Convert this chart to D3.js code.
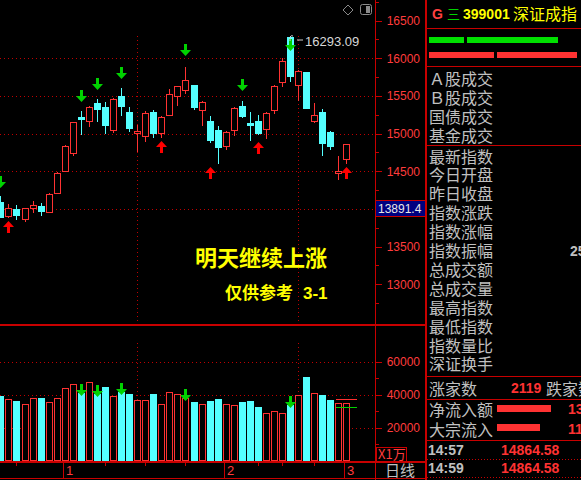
<!DOCTYPE html>
<html>
<head>
<meta charset="utf-8">
<script src="https://cdnjs.cloudflare.com/ajax/libs/d3/7.8.5/d3.min.js"></script>
<style>
body{margin:0;background:#000;overflow:hidden}
</style>
</head>
<body>
<script>
// ---- data (daily candles, 深证成指) ----
const openArr  = [14097,13911,14000,13871,14017,14040,13964,14216,14508,14747,15224,15171,15406,15353,15052,15499,15286,15017,14972,15286,15012,15251,15499,15582,15645,15313,15167,15048,14835,15048,15366,15141,15167,15065,15313,15688,16277,15649,15817,15171,15286,15021,14473,14667];
const highArr  = [14172,14066,14053,14013,14106,14080,14212,14491,14849,15154,15300,15366,15459,15419,15472,15605,15353,15114,15300,15313,15233,15595,15631,15883,15645,15432,15233,15101,15034,15353,15432,15286,15247,15286,15645,16003,16293.09,15843,15817,15406,15326,15034,14703,14864.58];
const lowArr   = [13890,13898,13867,13845,13960,13920,13960,14212,14504,14716,14999,15105,15171,15012,15021,15247,15038,14769,14906,14959,14959,15247,15383,15542,15326,15114,14889,14610,14796,14985,15220,14915,14995,14946,15277,15635,15702,15446,15339,15158,14720,14800,14402,14614];
const closeArr = [13890,14009,13920,14009,14053,13973,14199,14477,14835,15150,15194,15353,15326,15114,15459,15366,15074,15030,15269,15012,15220,15521,15627,15707,15353,15419,14915,14822,15021,15339,15233,15114,15008,15273,15627,15963,15768,15830,15343,15247,14879,14839,14504,14864.58];
const volArr   = [38960,37150,35940,34130,37750,37750,35330,37750,43790,46210,41190,47410,40170,44390,38960,41800,40170,36540,36540,40170,34130,41370,40170,38170,35330,34130,35940,37150,34130,33520,35330,35940,32310,28690,29900,28690,33520,39560,50430,40770,39560,36540,34730,34730];

// signal arrows: green = sell (above), red = buy (below); price at arrow tip
const sellIdx   = [0,10,12,15,23,30,36];
const sellPrice = [14278,15419,15578,15724,16029,15565,16095];
const buyIdx    = [1,20,26,32,43];
const buyPrice  = [13841,14902,14557,14889,14557];
const volSellIdx = [10,12,15,23,36];

const priceTicks = [13000,13500,14000,14500,15000,15500,16000,16500];
const priceGrid  = [14000,14500,15000,15500,16000];
const volTicks   = [20000,40000,60000];
const volMA      = [37570,32740];
const volMAIdx   = [41.6,44.2];
const monthIdx    = [8,28,43];
const monthLabels = ["1","2","3"];
const dotIdx      = [17,37];
const axisTopTicks = [2,13,18,23,32,35,39];

const highLabel = "16293.09";
const lastLabel = 13891.4;

const titleCode = "399001";
const titleName = "深证成指";
const rowsA = ["Ａ股成交","Ｂ股成交","国债成交","基金成交"];
const rowsB = ["最新指数","今日开盘","昨日收盘","指数涨跌","指数涨幅","指数振幅","总成交额","总成交量","最高指数","最低指数","指数量比","深证换手"];
const ticksTime  = ["14:57","14:59"];
const ticksPrice = ["14864.58","14864.58"];

//-------------------------------------------
const W = 581, H = 480;
const RED = "#ff3232", CYAN = "#54ffff", GRN = "#00d200", LINE = "#c80000", LBL = "#ff3c3c", GRAY = "#c0c0c0";
const CJK = "'Noto Sans CJK SC', sans-serif";
const NUM = "'Liberation Sans', Arial, sans-serif";

const svg = d3.select("body").append("svg")
  .attr("width", W).attr("height", H)
  .style("display", "block")
  .style("background", "#000");

const x = d3.scaleLinear().domain([0, 43]).range([0.88, 346.94]);
const y = d3.scaleLinear().domain([13000, 16500]).range([284.3, 20.5]);
const yv = d3.scaleLinear().domain([0, 60000]).range([460.5, 361.7]);
const cx = i => Math.floor(x(i));
const n = openArr.length;

// grid lines
const grid = svg.append("g").attr("stroke", "#c00000").attr("stroke-dasharray", "1,3").attr("shape-rendering", "crispEdges");
grid.selectAll(".gp").data(priceGrid).join("line")
  .attr("x1", 0).attr("x2", 375)
  .attr("y1", d => Math.round(y(d)) + 0.5).attr("y2", d => Math.round(y(d)) + 0.5);
grid.selectAll(".gv").data(volTicks).join("line")
  .attr("x1", 0).attr("x2", 375)
  .attr("y1", d => Math.round(yv(d)) + 0.5).attr("y2", d => Math.round(yv(d)) + 0.5);
grid.selectAll(".dm").data(dotIdx).join("line")
  .attr("x1", d => cx(d) + 0.5).attr("x2", d => cx(d) + 0.5)
  .attr("y1", 36).attr("y2", 322);
grid.selectAll(".dv").data(dotIdx).join("line")
  .attr("x1", d => cx(d) + 0.5).attr("x2", d => cx(d) + 0.5)
  .attr("y1", 343).attr("y2", 461);

// candles
const cg = svg.append("g").attr("shape-rendering", "crispEdges");
d3.range(n).forEach(i => {
  const up = closeArr[i] >= openArr[i];
  const col = up ? RED : CYAN;
  const c = cx(i);
  cg.append("line")
    .attr("x1", c + 0.5).attr("x2", c + 0.5)
    .attr("y1", Math.round(y(highArr[i]))).attr("y2", Math.round(y(lowArr[i])) + 1)
    .attr("stroke", col);
  let top = Math.round(y(Math.max(openArr[i], closeArr[i])));
  let bot = Math.round(y(Math.min(openArr[i], closeArr[i])));
  if (bot - top < 2) bot = top + 2;
  if (up) {
    cg.append("rect").attr("x", c - 2.5).attr("y", top + 0.5)
      .attr("width", 6).attr("height", bot - top)
      .attr("fill", "#000").attr("stroke", col);
  } else {
    cg.append("rect").attr("x", c - 3).attr("y", top)
      .attr("width", 7).attr("height", bot - top + 1)
      .attr("fill", col);
  }
  // volume
  const vt = Math.round(yv(volArr[i]));
  if (up) {
    cg.append("rect").attr("x", c - 2.5).attr("y", vt + 0.5)
      .attr("width", 6).attr("height", 461 - vt - 1)
      .attr("fill", "#000").attr("stroke", col);
  } else {
    cg.append("rect").attr("x", c - 3).attr("y", vt)
      .attr("width", 7).attr("height", 461 - vt)
      .attr("fill", col);
  }
});

// volume MA stubs
svg.append("g").attr("shape-rendering", "crispEdges").selectAll("line").data(volMA).join("line")
  .attr("x1", x(volMAIdx[0])).attr("x2", x(volMAIdx[1]))
  .attr("y1", d => Math.round(yv(d)) + 0.5).attr("y2", d => Math.round(yv(d)) + 0.5)
  .attr("stroke", (d, i) => i == 0 ? RED : GRN).attr("stroke-width", 1);

// arrows
function downArrow(i, ty) {
  const c = cx(i);
  return `M${c-1},${ty-12}H${c+2}V${ty-6}H${c+6}L${c+0.5},${ty}L${c-5},${ty-6}H${c-1}Z`;
}
function upArrow(i, ty) {
  const c = cx(i);
  return `M${c-1},${ty+12}H${c+2}V${ty+6}H${c+6}L${c+0.5},${ty}L${c-5},${ty+6}H${c-1}Z`;
}
const ag = svg.append("g");
ag.selectAll(".s").data(sellIdx).join("path")
  .attr("d", (d, k) => downArrow(d, Math.round(y(sellPrice[k]))))
  .attr("fill", GRN);
ag.selectAll(".b").data(buyIdx).join("path")
  .attr("d", (d, k) => upArrow(d, Math.round(y(buyPrice[k]))))
  .attr("fill", "#ff0000");
ag.selectAll(".vs").data(volSellIdx).join("path")
  .attr("d", d => downArrow(d, Math.round(yv(volArr[d])) + 3))
  .attr("fill", GRN);

// high label
const hi = highArr.indexOf(d3.max(highArr));
const hx = cx(hi), hy = Math.round(y(highArr[hi]));
svg.append("path")
  .attr("d", `M${hx},${hy+5}V${hy+1}Q${hx+1},${hy-1} ${hx+3},${hy}M${hx+7},${hy+4}L${hx+13},${hy+4}`)
  .attr("stroke", "#d0d0d0").attr("fill", "none");
svg.append("text").attr("x", hx + 15).attr("y", hy + 10)
  .attr("font-family", NUM).attr("font-size", 13).attr("fill", "#d8d8d8")
  .text(highLabel);

// overlay text
svg.append("text").attr("x", 195).attr("y", 266)
  .attr("font-family", CJK).attr("font-weight", "bold").attr("font-size", 22)
  .attr("fill", "#ffff00").text("明天继续上涨");
svg.append("text").attr("x", 225).attr("y", 299)
  .attr("font-family", CJK).attr("font-weight", "bold").attr("font-size", 17)
  .attr("fill", "#ffff00").text("仅供参考");
svg.append("text").attr("x", 303).attr("y", 299)
  .attr("font-family", NUM).attr("font-weight", "bold").attr("font-size", 17)
  .attr("fill", "#ffff00").text("3-1");

// top icons
svg.append("path").attr("d", "M348,5L353,10L348,15L343,10Z").attr("fill", "none").attr("stroke", "#8a8a8a");
svg.append("rect").attr("x", 360.5).attr("y", 4.5).attr("width", 11).attr("height", 10).attr("rx", 2)
  .attr("fill", "none").attr("stroke", "#8a8a8a");
svg.append("rect").attr("x", 366).attr("y", 6).attr("width", 4).attr("height", 7).attr("fill", "#8a8a8a");

// frame lines
const fr = svg.append("g").attr("stroke", LINE).attr("shape-rendering", "crispEdges");
fr.append("line").attr("x1", 375.5).attr("x2", 375.5).attr("y1", 0).attr("y2", 480);
fr.append("line").attr("x1", 426).attr("x2", 426).attr("y1", 0).attr("y2", 480).attr("stroke-width", 2);
fr.append("line").attr("x1", 0).attr("x2", 426).attr("y1", 324.5).attr("y2", 324.5).attr("stroke-width", 2);
fr.append("line").attr("x1", 0).attr("x2", 426).attr("y1", 462).attr("y2", 462).attr("stroke-width", 2);
fr.append("line").attr("x1", 0).attr("x2", 426).attr("y1", 478.5).attr("y2", 478.5);

// price axis (label under the last-price box is hidden, as in the software)
const by = Math.round(y(lastLabel));
const pa = svg.append("g").attr("shape-rendering", "crispEdges");
pa.selectAll(".mn").data(d3.range(12750, 16751, 250).filter(v => v % 500 != 0)).join("line")
  .attr("x1", 376).attr("x2", 379)
  .attr("y1", d => Math.round(y(d)) + 0.5).attr("y2", d => Math.round(y(d)) + 0.5)
  .attr("stroke", LINE);
pa.selectAll(".mj").data(priceTicks).join("line")
  .attr("x1", 376).attr("x2", 382)
  .attr("y1", d => Math.round(y(d)) + 0.5).attr("y2", d => Math.round(y(d)) + 0.5)
  .attr("stroke", LINE);
pa.selectAll("text").data(priceTicks.filter(d => Math.abs(y(d) - (by - 8)) > 12)).join("text")
  .attr("x", 420).attr("y", d => y(d) + 4.5)
  .attr("text-anchor", "end").attr("font-family", NUM).attr("font-size", 12)
  .attr("fill", LBL).text(d => d);

// last price box
svg.append("rect").attr("x", 375.5).attr("y", by - 16.5).attr("width", 50).attr("height", 16)
  .attr("fill", "#000080").attr("stroke", LINE);
svg.append("text").attr("x", 378).attr("y", by - 4)
  .attr("font-family", NUM).attr("font-size", 12).attr("fill", "#e8e8e8")
  .text(lastLabel.toFixed(1));

// volume axis
const va = svg.append("g").attr("shape-rendering", "crispEdges");
va.selectAll(".mn").data([10000, 30000, 50000]).join("line")
  .attr("x1", 376).attr("x2", 379)
  .attr("y1", d => Math.round(yv(d)) + 0.5).attr("y2", d => Math.round(yv(d)) + 0.5)
  .attr("stroke", LINE);
va.selectAll(".mj").data(volTicks).join("line")
  .attr("x1", 376).attr("x2", 382)
  .attr("y1", d => Math.round(yv(d)) + 0.5).attr("y2", d => Math.round(yv(d)) + 0.5)
  .attr("stroke", LINE);
va.selectAll("text").data(volTicks).join("text")
  .attr("x", 420).attr("y", d => yv(d) + 4.5)
  .attr("text-anchor", "end").attr("font-family", NUM).attr("font-size", 12)
  .attr("fill", LBL).text(d => d);
va.append("rect").attr("x", 376.5).attr("y", 447.5).attr("width", 30).attr("height", 14)
  .attr("fill", "none").attr("stroke", LINE);
va.append("text").attr("x", 378).attr("y", 459).attr("font-family", CJK).attr("font-size", 13)
  .attr("fill", LBL).text("X1万");
svg.append("text").attr("x", 400).attr("y", 476).attr("text-anchor", "middle")
  .attr("font-family", CJK).attr("font-size", 15).attr("fill", GRAY).text("日线");

// x axis
const xa = svg.append("g").attr("shape-rendering", "crispEdges");
xa.selectAll(".sep").data(monthIdx).join("line")
  .attr("x1", d => cx(d) - 1.5).attr("x2", d => cx(d) - 1.5)
  .attr("y1", 462).attr("y2", 478).attr("stroke", LINE);
xa.selectAll(".tk").data(axisTopTicks).join("line")
  .attr("x1", d => cx(d) + 0.5).attr("x2", d => cx(d) + 0.5)
  .attr("y1", 463).attr("y2", 466).attr("stroke", LINE);
xa.selectAll("text").data(monthIdx).join("text")
  .attr("x", d => cx(d) + 1).attr("y", 475)
  .attr("font-family", NUM).attr("font-size", 13).attr("fill", LBL)
  .text((d, i) => monthLabels[i]);

// right panel
const rp = svg.append("g");
rp.append("text").attr("x", 432).attr("y", 19).attr("font-family", NUM).attr("font-weight", "bold")
  .attr("font-size", 14).attr("fill", "#ff4040").text("G");
rp.append("text").attr("x", 447).attr("y", 19).attr("font-family", CJK).attr("font-size", 13)
  .attr("fill", GRN).text("三");
rp.append("text").attr("x", 463).attr("y", 19).attr("font-family", NUM).attr("font-weight", "bold")
  .attr("font-size", 14).attr("fill", "#ffff00").text(titleCode);
rp.append("text").attr("x", 513).attr("y", 20).attr("font-family", CJK)
  .attr("font-size", 16).attr("fill", "#ffff00").text(titleName);

const pl = rp.append("g").attr("stroke", LINE).attr("shape-rendering", "crispEdges");
[28, 66, 145, 376, 399, 440].forEach(v => {
  pl.append("line").attr("x1", 426).attr("x2", 581).attr("y1", v + 0.5).attr("y2", v + 0.5).attr("stroke-width", 1.5);
});
[459, 477].forEach(v => {
  pl.append("line").attr("x1", 427).attr("x2", 581).attr("y1", v + 0.5).attr("y2", v + 0.5).attr("stroke-dasharray", "1,2");
});

rp.append("rect").attr("x", 429).attr("y", 37).attr("width", 35).attr("height", 6).attr("fill", "#00e000");
rp.append("rect").attr("x", 467).attr("y", 37).attr("width", 91).attr("height", 6).attr("fill", "#00e000");
rp.append("rect").attr("x", 429).attr("y", 52).attr("width", 65).attr("height", 6).attr("fill", RED);
rp.append("rect").attr("x", 497).attr("y", 52).attr("width", 80).attr("height", 6).attr("fill", RED);

rp.selectAll(".ra").data(rowsA).join("text")
  .attr("x", 429).attr("y", (d, i) => 77.5 + i * 19)
  .attr("dominant-baseline", "central")
  .attr("font-family", CJK).attr("font-size", 16).attr("fill", GRAY).text(d => d);
rp.selectAll(".rb").data(rowsB).join("text")
  .attr("x", 429).attr("y", (d, i) => 155.5 + i * 18.9)
  .attr("dominant-baseline", "central")
  .attr("font-family", CJK).attr("font-size", 16).attr("fill", GRAY).text(d => d);
rp.append("text").attr("x", 570).attr("y", 256).attr("font-family", NUM).attr("font-weight", "bold")
  .attr("font-size", 14).attr("fill", GRAY).text("25");

rp.append("text").attr("x", 429).attr("y", 387.5).attr("dominant-baseline", "central")
  .attr("font-family", CJK).attr("font-size", 16).attr("fill", GRAY).text("涨家数");
rp.append("text").attr("x", 511).attr("y", 392.5).attr("font-family", NUM).attr("font-weight", "bold")
  .attr("font-size", 14).attr("fill", RED).text("2119");
rp.append("text").attr("x", 546).attr("y", 387.5).attr("dominant-baseline", "central")
  .attr("font-family", CJK).attr("font-size", 16).attr("fill", GRAY).text("跌家数");

rp.append("text").attr("x", 429).attr("y", 409).attr("dominant-baseline", "central")
  .attr("font-family", CJK).attr("font-size", 16).attr("fill", GRAY).text("净流入额");
rp.append("text").attr("x", 429).attr("y", 428.5).attr("dominant-baseline", "central")
  .attr("font-family", CJK).attr("font-size", 16).attr("fill", GRAY).text("大宗流入");
rp.append("rect").attr("x", 497).attr("y", 405).attr("width", 54).attr("height", 7).attr("fill", RED);
rp.append("rect").attr("x", 497).attr("y", 424).attr("width", 43).attr("height", 7).attr("fill", RED);
rp.append("text").attr("x", 568).attr("y", 414).attr("font-family", NUM).attr("font-weight", "bold")
  .attr("font-size", 14).attr("fill", RED).text("13");
rp.append("text").attr("x", 568).attr("y", 434).attr("font-family", NUM).attr("font-weight", "bold")
  .attr("font-size", 14).attr("fill", RED).text("11");

ticksTime.forEach((t, i) => {
  rp.append("text").attr("x", 428).attr("y", 455 + i * 18).attr("font-family", NUM).attr("font-weight", "bold")
    .attr("font-size", 14).attr("fill", GRAY).text(t);
  rp.append("text").attr("x", 501).attr("y", 455 + i * 18).attr("font-family", NUM).attr("font-weight", "bold")
    .attr("font-size", 14).attr("fill", RED).text(ticksPrice[i]);
});
</script>
</body>
</html>
